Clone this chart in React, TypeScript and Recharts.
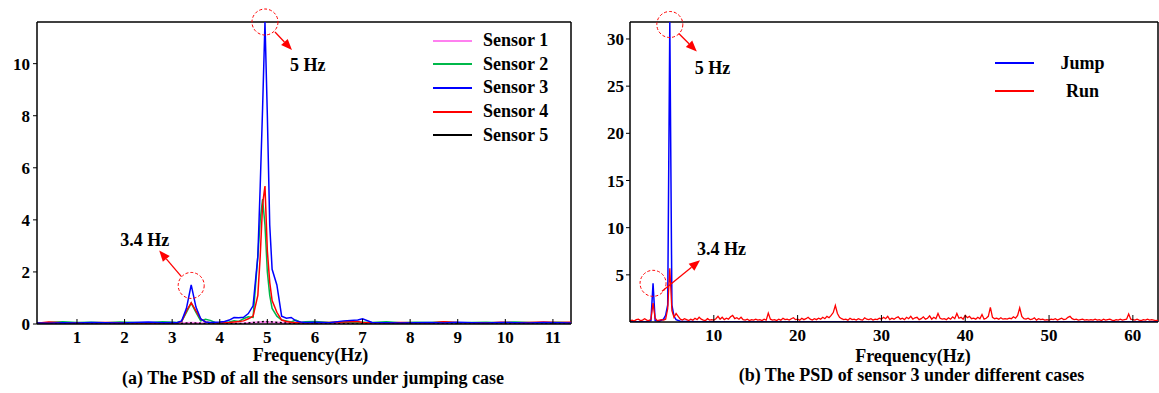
import { LineChart, Line, XAxis, YAxis, Legend, ReferenceDot, ReferenceLine } from 'recharts';

const SERIF = '"Liberation Serif", "Times New Roman", Times, serif';
const RED = '#FF0000';

// ---- (a) PSD of all sensors, jumping case ----
// sensors 2-4 share one frequency grid (Hz), denser around the peaks
const FREQ_A = [
  0.16, 0.4, 0.7, 1.0, 1.3, 1.6, 1.9, 2.2, 2.5, 2.8,
  3.0, 3.1, 3.2, 3.3, 3.4, 3.5, 3.6, 3.7, 3.8, 3.9,
  4.0, 4.1, 4.2, 4.3, 4.4, 4.5, 4.6, 4.7, 4.8, 4.85,
  4.9, 4.95, 5.0, 5.05, 5.1, 5.2, 5.3, 5.4, 5.5, 5.6,
  5.7, 5.8, 6.0, 6.3, 6.6, 6.9, 7.0, 7.2, 7.5, 7.8,
  8.1, 8.4, 8.7, 9.0, 9.3, 9.6, 9.9, 10.2, 10.5, 10.8, 11.1, 11.38,
];
const SENSOR2_PSD = [
  0.05, 0.06, 0.09, 0.06, 0.07, 0.05, 0.08, 0.06, 0.05, 0.09,
  0.07, 0.06, 0.1, 0.45, 0.8, 0.45, 0.12, 0.18, 0.14, 0.06,
  0.05, 0.06, 0.08, 0.12, 0.1, 0.2, 0.28, 0.25, 2.6, 4.0,
  4.8, 3.8, 2.0, 1.1, 0.6, 0.3, 0.15, 0.12, 0.08, 0.15,
  0.06, 0.09, 0.1, 0.06, 0.08, 0.05, 0.07, 0.06, 0.09, 0.05,
  0.07, 0.06, 0.08, 0.05, 0.06, 0.07, 0.05, 0.08, 0.06, 0.05, 0.07, 0.05,
];
const SENSOR3_PSD = [
  0.04, 0.03, 0.05, 0.04, 0.06, 0.05, 0.04, 0.06, 0.08, 0.05,
  0.06, 0.05, 0.12, 0.6, 1.5, 0.65, 0.2, 0.08, 0.06, 0.07,
  0.08, 0.1, 0.15, 0.25, 0.24, 0.26, 0.4, 0.7, 2.6, 5.3,
  8.3, 11.6, 8.0, 3.8, 2.1, 1.5, 0.3, 0.22, 0.25, 0.12,
  0.08, 0.06, 0.07, 0.05, 0.12, 0.15, 0.2, 0.06, 0.05, 0.04,
  0.05, 0.06, 0.04, 0.07, 0.05, 0.04, 0.06, 0.05, 0.04, 0.06, 0.05, 0.04,
];
const SENSOR4_PSD = [
  0.03, 0.08, 0.05, 0.04, 0.05, 0.06, 0.05, 0.04, 0.05, 0.04,
  0.05, 0.04, 0.1, 0.5, 0.82, 0.5, 0.2, 0.08, 0.05, 0.05,
  0.04, 0.05, 0.06, 0.08, 0.1, 0.12, 0.2, 0.3, 1.1, 2.6,
  4.6, 5.3, 2.8, 1.6, 0.9, 0.45, 0.15, 0.1, 0.07, 0.05,
  0.06, 0.04, 0.05, 0.06, 0.08, 0.1, 0.06, 0.05, 0.04, 0.06,
  0.05, 0.04, 0.09, 0.06, 0.05, 0.04, 0.07, 0.05, 0.06, 0.08, 0.06, 0.07,
];
// sensors 1 and 5 stay close to zero, sampled coarser
const FLAT_FREQ = [0.16, 0.7, 1.2, 1.8, 2.4, 3.0, 3.4, 3.8, 4.5, 4.95, 5.5, 6.2, 7.0, 7.8, 8.6, 9.4, 10.2, 11.38];
const SENSOR1_PSD = [0.02, 0.01, 0.03, 0.02, 0.01, 0.02, 0.05, 0.02, 0.03, 0.08, 0.03, 0.02, 0.01, 0.02, 0.01, 0.02, 0.02, 0.01];
const SENSOR5_PSD = [0.01, 0.02, 0.01, 0.02, 0.03, 0.01, 0.04, 0.01, 0.02, 0.1, 0.02, 0.01, 0.02, 0.01, 0.02, 0.01, 0.01, 0.02];

const SENSOR_NAMES = ['Sensor 1', 'Sensor 2', 'Sensor 3', 'Sensor 4', 'Sensor 5'];
const SENSOR_COLORS = ['#FF80F0', '#00B84A', '#0000FF', '#FF0000', '#000000'];

const A_X_DOMAIN = [0.16, 11.38];
const A_Y_DOMAIN = [0, 11.6];
const A_X_TICKS = [1, 2, 3, 4, 5, 6, 7, 8, 9, 10, 11];
const A_Y_TICKS = [0, 2, 4, 6, 8, 10];

// ---- (b) PSD of sensor 3, jump vs run ----
const JUMP_FREQ = [0, 1, 2, 2.5, 2.75, 3.0, 3.5, 4.0, 4.25, 4.5, 4.75, 5.0, 5.25, 5.5, 6.0, 8, 63];
const JUMP_PSD = [0.02, 0.03, 0.05, 0.15, 4.1, 0.15, 0.08, 0.3, 0.7, 1.8, 31.8, 1.8, 0.6, 0.25, 0.08, 0.03, 0.02];

// run case: one value every 0.25 Hz from 0 to 63 Hz, 20 bins per row
const RUN_STEP = 0.25;
const RUN_PSD = [
  0.15, 0.2, 0.1, 0.25, 0.3, 0.15, 0.2, 0.35, 0.2, 0.15, 0.3, 2.0, 0.4, 0.15, 0.2, 0.25, 0.2, 0.3, 1.4, 5.7,
  1.2, 0.5, 0.9, 0.6, 0.3, 0.2, 0.35, 0.25, 0.15, 0.3, 0.2, 0.4, 0.25, 0.5, 0.3, 0.2, 0.15, 0.35, 0.2, 0.25,
  0.2, 0.35, 0.6, 0.3, 0.5, 0.25, 0.4, 0.3, 0.55, 0.7, 0.35, 0.45, 0.3, 0.5, 0.25, 0.2, 0.3, 0.15, 0.25, 0.2,
  0.3, 0.2, 0.25, 0.15, 0.3, 0.2, 0.95, 0.3, 0.2, 0.25, 0.15, 0.3, 0.2, 0.4, 0.25, 0.3, 0.2, 0.35, 0.45, 0.25,
  0.3, 0.2, 0.4, 0.25, 0.35, 0.5, 0.3, 0.2, 0.35, 0.25, 0.4, 0.3, 0.5, 0.35, 0.6, 0.45, 0.7, 1.0, 1.75, 0.9,
  0.5, 0.35, 0.25, 0.3, 0.2, 0.4, 0.25, 0.3, 0.2, 0.35, 0.25, 0.2, 0.45, 0.3, 0.25, 0.35, 0.2, 0.3, 0.25, 0.4,
  0.3, 0.5, 0.35, 0.6, 0.25, 0.4, 0.3, 0.45, 0.55, 0.3, 0.4, 0.25, 0.5, 0.35, 0.6, 0.3, 0.45, 0.5, 0.25, 0.35,
  0.55, 0.3, 0.4, 0.65, 0.3, 0.5, 0.35, 0.9, 0.4, 0.3, 0.35, 0.25, 0.45, 0.3, 0.55, 0.35, 0.9, 0.4, 0.5, 0.3,
  0.7, 0.45, 0.6, 0.35, 0.4, 0.3, 0.5, 0.35, 0.8, 0.3, 0.4, 0.6, 1.55, 0.5, 0.35, 0.4, 0.3, 0.45, 0.3, 0.35,
  0.3, 0.4, 0.35, 0.55, 0.4, 0.7, 1.5, 0.6, 0.35, 0.3, 0.4, 0.25, 0.3, 0.45, 0.2, 0.35, 0.25, 0.3, 0.2, 0.25,
  0.2, 0.3, 0.25, 0.35, 0.2, 0.3, 0.4, 0.25, 0.3, 0.5, 0.6, 0.35, 0.25, 0.3, 0.2, 0.25, 0.3, 0.2, 0.25, 0.2,
  0.25, 0.2, 0.3, 0.2, 0.25, 0.15, 0.3, 0.2, 0.25, 0.3, 0.2, 0.15, 0.25, 0.2, 0.3, 0.2, 0.25, 0.3, 0.85, 0.3,
  0.25, 0.2, 0.3, 0.2, 0.15, 0.25, 0.2, 0.3, 0.2, 0.25, 0.2, 0.15, 0.2,
];

const CASE_NAMES = ['Jump', 'Run'];
const CASE_COLORS = ['#0000FF', '#FF0000'];

const B_X_DOMAIN = [0, 63];
const B_Y_DOMAIN = [0, 31.8];
const B_X_TICKS = [10, 20, 30, 40, 50, 60];
const B_Y_TICKS = [5, 10, 15, 20, 25, 30];

const toPoints = (freqs: number[], values: number[]) => freqs.map((f, i) => ({ f, psd: values[i] }));

const sensorData = [
  toPoints(FLAT_FREQ, SENSOR1_PSD),
  toPoints(FREQ_A, SENSOR2_PSD),
  toPoints(FREQ_A, SENSOR3_PSD),
  toPoints(FREQ_A, SENSOR4_PSD),
  toPoints(FLAT_FREQ, SENSOR5_PSD),
];
const jumpData = toPoints(JUMP_FREQ, JUMP_PSD);
const runData = RUN_PSD.map((psd, i) => ({ f: i * RUN_STEP, psd }));

const at = (freqs: number[], values: number[], f: number) => ({ x: f, y: values[freqs.indexOf(f)] });
const peakA34 = at(FREQ_A, SENSOR3_PSD, 3.4);
const peakA5 = at(FREQ_A, SENSOR3_PSD, 4.95);
const peakB34 = at(JUMP_FREQ, JUMP_PSD, 2.75);
const peakB5 = at(JUMP_FREQ, JUMP_PSD, 4.75);

const tickFont = { fill: '#000', fontSize: 17, fontWeight: 700, fontFamily: SERIF };
const frameLine = { stroke: '#000', strokeWidth: 1.5 };

// x ticks point up into the plot, labels sit under the axis
const makeInTick = (len: number) => (props: any) => {
  const { x, y, payload } = props;
  return (
    <g>
      <line x1={x} x2={x} y1={y} y2={y - len} stroke="#000" strokeWidth={1} />
      <text x={x} y={y + 19} textAnchor="middle" {...tickFont}>
        {payload.value}
      </text>
    </g>
  );
};

type MarkSpec = {
  label: string;
  dy: number;
  arrow: [number, number, number, number];
  text: [number, number];
};

// dashed circle around a peak, red arrow and a frequency label
const peakShape = (spec: MarkSpec) => (props: any) => {
  const cx = props.cx;
  const cy = props.cy + spec.dy;
  const [sx, sy, tx, ty] = spec.arrow;
  const x1 = cx + sx;
  const y1 = cy + sy;
  const x2 = cx + tx;
  const y2 = cy + ty;
  const a = Math.atan2(y2 - y1, x2 - x1);
  const len = 11;
  const half = 4.5;
  const bx = x2 - len * Math.cos(a);
  const by = y2 - len * Math.sin(a);
  const px = -Math.sin(a) * half;
  const py = Math.cos(a) * half;
  return (
    <g>
      <circle cx={cx} cy={cy} r={13} fill="none" stroke={RED} strokeWidth={1} strokeDasharray="3 2" />
      <line x1={x1} y1={y1} x2={bx} y2={by} stroke={RED} strokeWidth={1.3} />
      <polygon points={`${x2},${y2} ${bx + px},${by + py} ${bx - px},${by - py}`} fill={RED} />
      <text x={cx + spec.text[0]} y={cy + spec.text[1]} fontFamily={SERIF} fontWeight={700} fontSize={18} fill="#000">
        {spec.label}
      </text>
    </g>
  );
};

const LegendBox = ({
  names,
  colors,
  rowH,
  textW,
  gap,
  center,
}: {
  names: string[];
  colors: string[];
  rowH: number;
  textW: number;
  gap: number;
  center?: boolean;
}) => (
  <div style={{ fontFamily: SERIF, fontWeight: 700, fontSize: 18, color: '#000' }}>
    {names.map((name, i) => (
      <div key={name} style={{ display: 'flex', alignItems: 'center', height: rowH }}>
        <span style={{ display: 'inline-block', width: 39, height: 2, background: colors[i], marginRight: gap }} />
        <span style={{ width: textW, textAlign: center ? 'center' : 'left', whiteSpace: 'nowrap' }}>{name}</span>
      </div>
    ))}
  </div>
);

// top and right edges of the plot box
const frameEdges = (xDomain: number[], yDomain: number[]) => [
  <ReferenceLine key="top" y={yDomain[1]} stroke="#000" strokeWidth={1.5} ifOverflow="visible" />,
  <ReferenceLine key="right" x={xDomain[1]} stroke="#000" strokeWidth={1.5} ifOverflow="visible" />,
];

const SensorsChart = () => (
  <LineChart width={600} height={393} margin={{ top: 22, right: 29, bottom: 39, left: 0 }}>
    <XAxis
      type="number"
      dataKey="f"
      domain={A_X_DOMAIN}
      ticks={A_X_TICKS}
      allowDataOverflow
      height={30}
      tickSize={0}
      tickMargin={0}
      tickLine={false}
      axisLine={frameLine}
      tick={makeInTick(5)}
    />
    <YAxis
      type="number"
      domain={A_Y_DOMAIN}
      ticks={A_Y_TICKS}
      allowDataOverflow
      width={37}
      tickSize={4}
      tickMargin={3}
      tickLine={{ stroke: '#000' }}
      axisLine={frameLine}
      tick={tickFont}
    />
    {frameEdges(A_X_DOMAIN, A_Y_DOMAIN)}
    <Legend
      layout="vertical"
      align="center"
      verticalAlign="middle"
      wrapperStyle={{ left: 433, top: 29, width: 140 }}
      content={() => <LegendBox names={SENSOR_NAMES} colors={SENSOR_COLORS} rowH={23.6} textW={90} gap={11} />}
    />
    <Line data={sensorData[0]} dataKey="psd" name={SENSOR_NAMES[0]} stroke={SENSOR_COLORS[0]} strokeWidth={2} dot={false} isAnimationActive={false} />
    <Line data={sensorData[4]} dataKey="psd" name={SENSOR_NAMES[4]} stroke={SENSOR_COLORS[4]} strokeWidth={1.5} strokeDasharray="2 2.5" dot={false} isAnimationActive={false} />
    <Line data={sensorData[1]} dataKey="psd" name={SENSOR_NAMES[1]} stroke={SENSOR_COLORS[1]} strokeWidth={1.5} dot={false} isAnimationActive={false} />
    <Line data={sensorData[3]} dataKey="psd" name={SENSOR_NAMES[3]} stroke={SENSOR_COLORS[3]} strokeWidth={1.5} dot={false} isAnimationActive={false} />
    <Line data={sensorData[2]} dataKey="psd" name={SENSOR_NAMES[2]} stroke={SENSOR_COLORS[2]} strokeWidth={1.5} dot={false} isAnimationActive={false} />
    <ReferenceDot
      x={peakA34.x}
      y={peakA34.y}
      r={13}
      ifOverflow="visible"
      shape={peakShape({ label: '3.4 Hz', dy: 0.5, arrow: [-10, -9, -32, -35], text: [-71, -39] })}
    />
    <ReferenceDot
      x={peakA5.x}
      y={peakA5.y}
      r={13}
      ifOverflow="visible"
      shape={peakShape({ label: '5 Hz', dy: 0, arrow: [10, 10, 27, 28], text: [25, 49] })}
    />
  </LineChart>
);

const CasesChart = () => (
  <LineChart width={579} height={393} margin={{ top: 22, right: 1, bottom: 41, left: 0 }}>
    <XAxis
      type="number"
      dataKey="f"
      domain={B_X_DOMAIN}
      ticks={B_X_TICKS}
      allowDataOverflow
      height={30}
      tickSize={0}
      tickMargin={0}
      tickLine={false}
      axisLine={frameLine}
      tick={makeInTick(7)}
    />
    <YAxis
      type="number"
      domain={B_Y_DOMAIN}
      ticks={B_Y_TICKS}
      allowDataOverflow
      width={50}
      tickSize={4}
      tickMargin={2}
      tickLine={{ stroke: '#000' }}
      axisLine={frameLine}
      tick={tickFont}
    />
    {frameEdges(B_X_DOMAIN, B_Y_DOMAIN)}
    <Legend
      layout="vertical"
      align="center"
      verticalAlign="middle"
      wrapperStyle={{ left: 415, top: 49, width: 140 }}
      content={() => <LegendBox names={CASE_NAMES} colors={CASE_COLORS} rowH={28} textW={81} gap={8} center />}
    />
    <Line data={jumpData} dataKey="psd" name={CASE_NAMES[0]} stroke={CASE_COLORS[0]} strokeWidth={1.5} dot={false} isAnimationActive={false} />
    <Line data={runData} dataKey="psd" name={CASE_NAMES[1]} stroke={CASE_COLORS[1]} strokeWidth={1.3} dot={false} isAnimationActive={false} />
    <ReferenceDot
      x={peakB34.x}
      y={peakB34.y}
      r={13}
      ifOverflow="visible"
      shape={peakShape({ label: '3.4 Hz', dy: 0, arrow: [9, 8, 47, -23], text: [44, -28] })}
    />
    <ReferenceDot
      x={peakB5.x}
      y={peakB5.y}
      r={13}
      ifOverflow="visible"
      shape={peakShape({ label: '5 Hz', dy: 2.5, arrow: [9, 9, 27, 27], text: [25, 49.5] })}
    />
  </LineChart>
);

const captionStyle = { fontFamily: SERIF, fontWeight: 700, fontSize: 18, fill: '#000' };

export default function App() {
  return (
    <div style={{ position: 'absolute', left: 0, top: 0, width: 1159, height: 393, background: '#fff', overflow: 'hidden' }}>
      <div style={{ position: 'absolute', left: 0, top: 0 }}>
        <SensorsChart />
      </div>
      <div style={{ position: 'absolute', left: 580, top: 0 }}>
        <CasesChart />
      </div>
      <svg width={1159} height={393} style={{ position: 'absolute', left: 0, top: 0, pointerEvents: 'none' }}>
        <text x={310.5} y={361} textAnchor="middle" {...captionStyle}>Frequency(Hz)</text>
        <text x={313} y={384} textAnchor="middle" {...captionStyle}>(a) The PSD of all the sensors under jumping case</text>
        <text x={913} y={362} textAnchor="middle" {...captionStyle}>Frequency(Hz)</text>
        <text x={911.5} y={381} textAnchor="middle" {...captionStyle}>(b) The PSD of sensor 3 under different cases</text>
      </svg>
    </div>
  );
}
